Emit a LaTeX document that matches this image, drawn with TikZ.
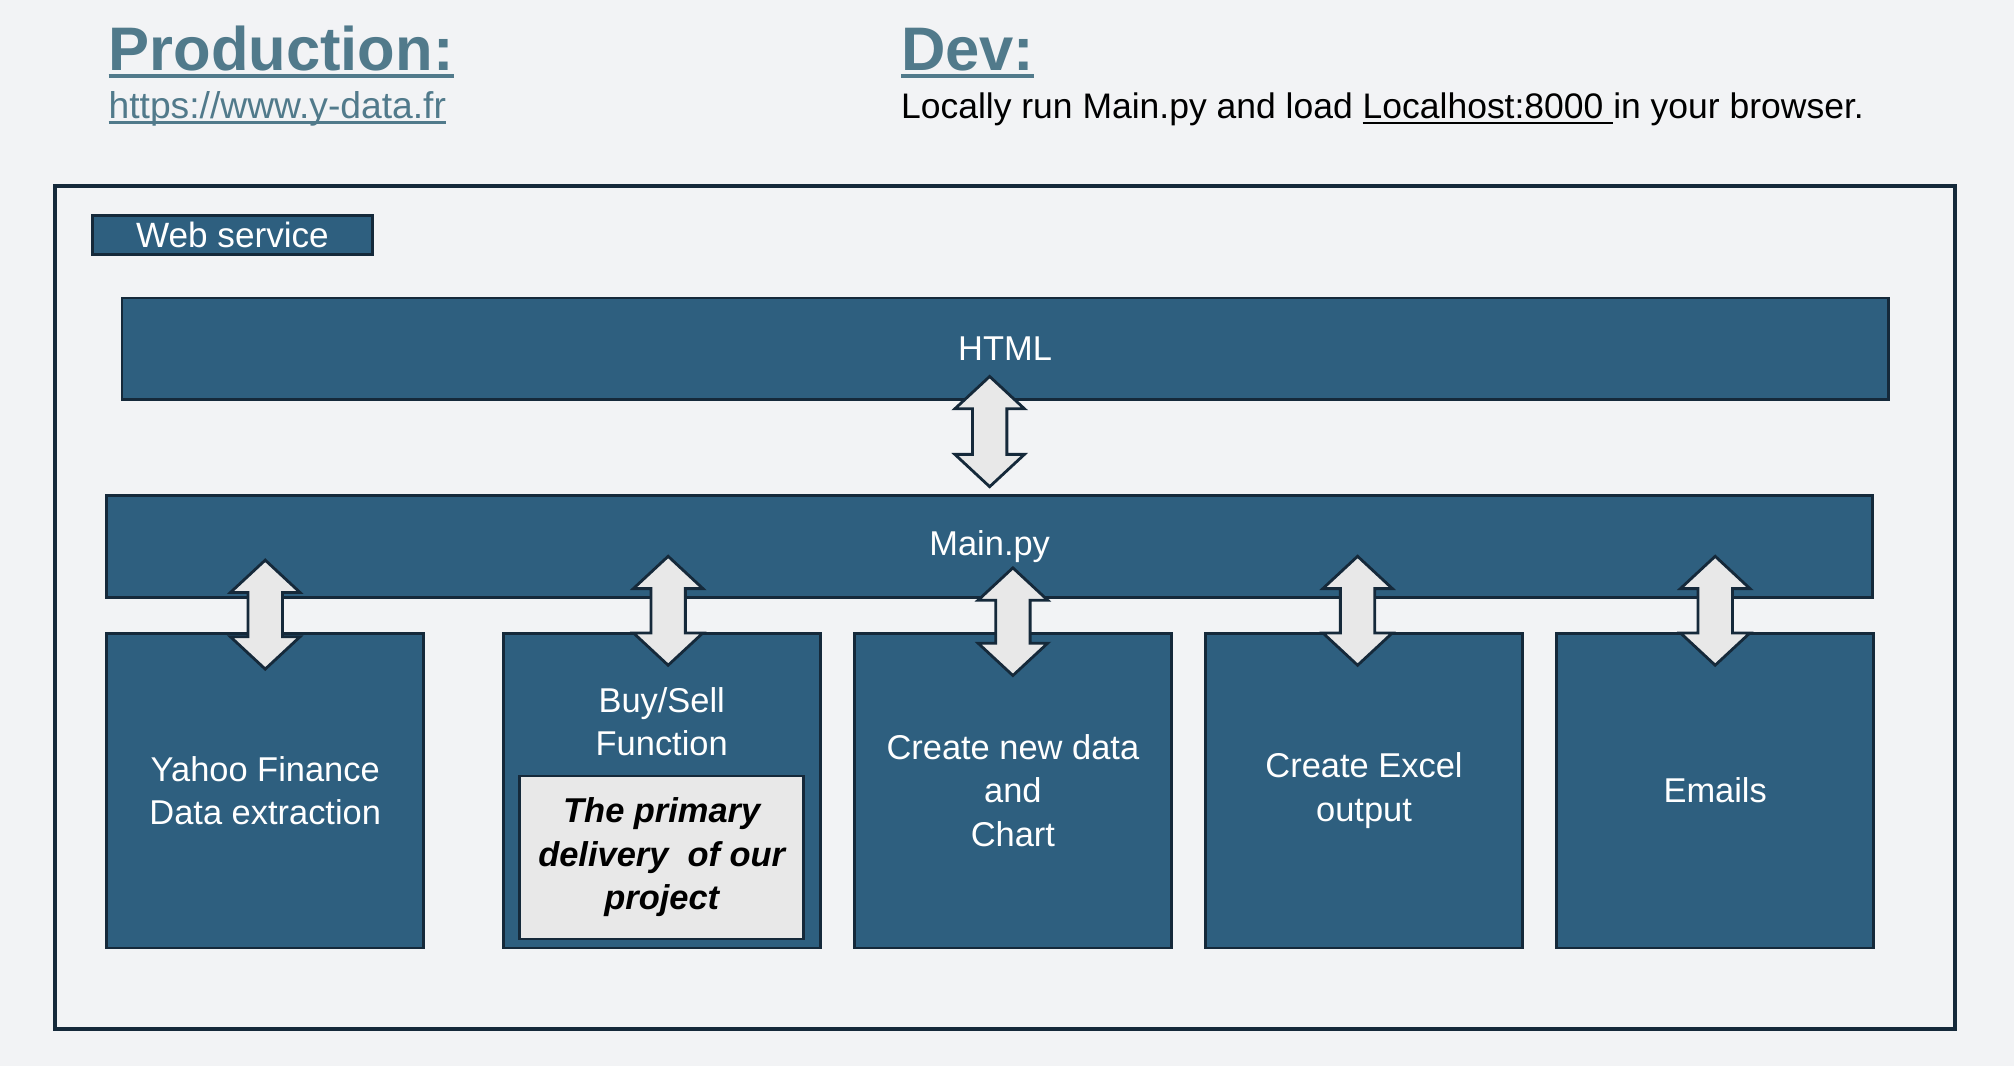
\documentclass[tikz,border=0pt]{standalone}
\usepackage{fontspec}
\setmainfont{Liberation Sans}
\usetikzlibrary{positioning, calc}

\definecolor{paper}{HTML}{F2F3F5}
\definecolor{boxblue}{HTML}{2E5F7F}
\definecolor{edge}{HTML}{15293A}
\definecolor{headblue}{HTML}{517A8B}
\definecolor{arrowgray}{HTML}{E8E8E8}

\def\pxu{0.012844cm}
\newcommand{\boxfont}{\fontsize{9.8}{12.4}\selectfont}
\newcommand{\headfont}{\fontsize{17.5}{20}\selectfont\bfseries}
\newcommand{\notefont}{\fontsize{10.1}{12.4}\selectfont}
\newcommand{\urlfont}{\fontsize{10.6}{12.4}\selectfont}
\newsavebox{\ulbox}
% underline: thickness, depth, text
\newcommand{\lineunder}[3]{\sbox{\ulbox}{#3}\leavevmode
    \rlap{\raisebox{-#2}{\rule{\wd\ulbox}{#1}}}\usebox{\ulbox}}

\begin{document}
\begin{tikzpicture}[x=\pxu, y=-\pxu, node distance=24.2*\pxu,
                block/.style={rectangle,draw=edge,fill=boxblue,line width=0.8pt,text=white,
                              font=\boxfont,align=center,inner sep=0pt},
                bar/.style={block,minimum width=1375*\pxu,minimum height=79*\pxu},
                task/.style={block,minimum width=247*\pxu,minimum height=245*\pxu},
                linkarrow/.style={draw=edge,fill=arrowgray,line width=0.8pt,line join=miter,
                  to path={let \p1=(\tikztostart), \p2=(\tikztotarget) in
                    (\x1,\y1) -- (\x1+9.9pt,\y1-9.2pt) -- (\x1+4.9pt,\y1-9.2pt)
                    -- (\x1+4.9pt,\y2+9.2pt) -- (\x1+9.9pt,\y2+9.2pt) -- (\x1,\y2)
                    -- (\x1-9.9pt,\y2+9.2pt) -- (\x1-4.9pt,\y2+9.2pt)
                    -- (\x1-4.9pt,\y1-9.2pt) -- (\x1-9.9pt,\y1-9.2pt) -- cycle}}]

        % page
        \fill[paper] (0,0) rectangle (1568,830);
        \useasboundingbox (0,0) rectangle (1568,830);

        % headings
        \node[anchor=base west,inner sep=0pt,text=headblue,font=\headfont] (prod) at (84,55)
            {\lineunder{1.1pt}{2pt}{Production:}};
        \node[anchor=base west,inner sep=0pt,text=headblue,font=\urlfont] (url) at (84,92)
            {\lineunder{0.7pt}{1.6pt}{https://www.y-data.fr}};
        \node[anchor=base west,inner sep=0pt,text=headblue,font=\headfont] (dev) at (701,55)
            {\lineunder{1.1pt}{2pt}{Dev:}};
        \node[anchor=base west,inner sep=0pt,text=black,font=\notefont] (devnote) at (701,92)
            {Locally run Main.py and load \lineunder{0.6pt}{1.6pt}{Localhost:8000\ }in your browser.};

        % web service frame
        \node[draw=edge,line width=1pt,minimum width=1479*\pxu,minimum height=656*\pxu,inner sep=0pt]
            (frame) at (782.5,473) {};
        \node[block,minimum width=218*\pxu,minimum height=30*\pxu,font=\fontsize{10}{12}\selectfont]
            (websvc) at (181,183) {Web service};

        \node[bar] (html) at (782.5,271.5) {HTML};
        \node[bar] (main) at (770.5,425.5) {\raisebox{-1.2pt}{Main.py}};

        \node[task] (yahoo) at (206.5,615.5) {Yahoo Finance\\Data extraction};
        \node[task] (buysell) [right=59.5*\pxu of yahoo] {};
        \node[task] (newdata) [right=of buysell] {Create new data\\and\\Chart};
        \node[task] (excel) [right=of newdata] {Create Excel\\output};
        \node[task] (emails) [right=of excel] {Emails};

        \node[text=white,font=\boxfont,align=center] (bstitle) at ($(buysell.north)+(0,70)$)
            {Buy/Sell\\Function};
        \node[draw=edge,fill=arrowgray,line width=0.8pt,minimum width=221*\pxu,minimum height=127*\pxu,
              inner sep=0pt,align=center,font=\boxfont\bfseries\itshape]
            (core) at ($(buysell.south)+(0,-71.5)$) {The primary\\delivery\ \ of our\\project};

        % links
        \draw[linkarrow] ($(html.south -| main)+(0,-19)$) to ($(main.north)+(0,-6)$);
        \draw[linkarrow] ($(main.south -| yahoo)+(0,-30)$) to ($(yahoo.north)+(0,29)$);
        \draw[linkarrow] ($(main.south -| buysell)+(5,-33)$) to ($(buysell.north)+(5,26)$);
        \draw[linkarrow] ($(main.south -| newdata)+(0,-24)$) to ($(newdata.north)+(0,34)$);
        \draw[linkarrow] ($(main.south -| excel)+(-5,-33)$) to ($(excel.north)+(-5,26)$);
        \draw[linkarrow] ($(main.south -| emails)+(0,-33)$) to ($(emails.north)+(0,26)$);
\end{tikzpicture}
\end{document}
